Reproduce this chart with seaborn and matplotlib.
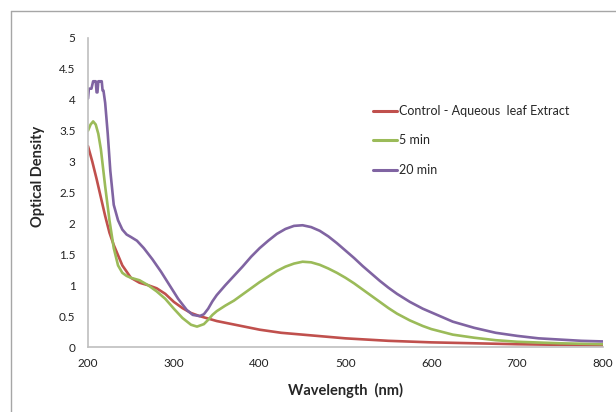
import pandas as pd
import seaborn as sns
import matplotlib.pyplot as plt
from matplotlib.lines import Line2D

# spectra
wl_control = [200, 205, 210, 215, 220, 225, 230, 240, 250, 260, 270, 280, 290, 300,
              310, 320, 330, 340, 350, 375, 400, 425, 450, 475, 500, 550, 600, 650,
              700, 750, 800]
od_control = [3.25, 3.0, 2.72, 2.42, 2.12, 1.85, 1.65, 1.32, 1.12, 1.04, 1.0, 0.95,
              0.86, 0.73, 0.63, 0.55, 0.5, 0.46, 0.42, 0.35, 0.28, 0.23, 0.2, 0.17,
              0.14, 0.1, 0.075, 0.06, 0.045, 0.035, 0.025]

wl_5min = [200, 203, 206, 209, 212, 215, 220, 225, 230, 235, 240, 245, 250, 260, 270,
           280, 290, 300, 310, 320, 327, 335, 340, 345, 350, 360, 370, 380, 390, 400,
           410, 420, 430, 440, 450, 460, 470, 480, 490, 500, 510, 520, 530, 540, 550,
           560, 575, 590, 600, 625, 650, 675, 700, 750, 800]
od_5min = [3.5, 3.6, 3.65, 3.6, 3.45, 3.2, 2.6, 2.05, 1.6, 1.32, 1.2, 1.15, 1.12,
           1.08, 1.0, 0.9, 0.78, 0.62, 0.47, 0.36, 0.33, 0.37, 0.44, 0.52, 0.58, 0.67,
           0.75, 0.85, 0.95, 1.05, 1.14, 1.23, 1.3, 1.35, 1.38, 1.37, 1.33, 1.27, 1.2,
           1.12, 1.03, 0.93, 0.83, 0.73, 0.63, 0.54, 0.43, 0.34, 0.29, 0.2, 0.15, 0.11,
           0.085, 0.06, 0.045]

wl_20min = [200, 201, 202, 204, 206, 207, 209, 210, 211, 212, 214, 216, 217, 218, 220,
            223, 226, 230, 235, 240, 245, 250, 257, 265, 275, 285, 295, 305, 315, 322,
            330, 335, 340, 345, 350, 360, 370, 380, 390, 400, 410, 420, 430, 440, 450,
            460, 470, 480, 490, 500, 510, 520, 530, 540, 550, 560, 575, 590, 600, 625,
            650, 675, 700, 725, 750, 775, 800]
od_20min = [4.02, 4.18, 4.18, 4.18, 4.3, 4.3, 4.3, 4.12, 4.12, 4.3, 4.3, 4.3, 4.15,
            4.15, 3.95, 3.45, 2.85, 2.3, 2.05, 1.9, 1.82, 1.78, 1.72, 1.6, 1.42, 1.22,
            1.0, 0.78, 0.6, 0.52, 0.5, 0.53, 0.62, 0.74, 0.84, 1.0, 1.15, 1.3, 1.46,
            1.6, 1.72, 1.83, 1.91, 1.96, 1.97, 1.94, 1.88, 1.79, 1.68, 1.56, 1.44, 1.31,
            1.19, 1.07, 0.96, 0.86, 0.73, 0.62, 0.56, 0.41, 0.31, 0.23, 0.18, 0.14,
            0.12, 0.1, 0.09]

labels = ["Control - Aqueous  leaf Extract", "5 min", "20 min"]
colors = ["#C0504D", "#9BBB59", "#8064A2"]

frames = []
for name, wl, od in zip(labels, [wl_control, wl_5min, wl_20min],
                        [od_control, od_5min, od_20min]):
    frames.append(pd.DataFrame({"wl": wl, "od": od, "series": name}))
df = pd.concat(frames, ignore_index=True)

sns.set_theme(style="white")
plt.rcParams["font.family"] = ["Lato", "DejaVu Sans"]

fig = plt.figure(figsize=(6.16, 4.12), dpi=100)
ax = fig.add_axes([88 / 616, 1 - 347 / 412, 515 / 616, 309 / 412])

sns.lineplot(data=df, x="wl", y="od", hue="series", hue_order=labels,
             palette=colors, linewidth=1.9, sort=False, estimator=None, ax=ax,
             legend=False)
for line in ax.get_lines():
    line.set_solid_joinstyle("round")
    line.set_solid_capstyle("round")

ax.set_xlim(200, 800)
ax.set_ylim(0, 5)
ax.set_xticks(range(200, 801, 100))
ax.set_yticks([0, 0.5, 1, 1.5, 2, 2.5, 3, 3.5, 4, 4.5, 5])
ax.set_yticklabels(["0", "0.5", "1", "1.5", "2", "2.5", "3", "3.5", "4", "4.5", "5"])
ax.tick_params(axis="y", length=0, pad=9, labelsize=8.5, colors="#222222")
ax.tick_params(axis="x", length=0, pad=8, labelsize=8.5, colors="#222222")
for side in ["top", "right"]:
    ax.spines[side].set_visible(False)
for side in ["left", "bottom"]:
    ax.spines[side].set_color("#BFBFBF")
    ax.spines[side].set_linewidth(1.2)
ax.set_xlabel("")
ax.set_ylabel("")

fig.text(345 / 616, 1 - 390 / 412, "Wavelength  (nm)", ha="center", va="center",
         fontsize=10.5, fontweight="bold")
fig.text(38 / 616, 1 - 176 / 412, "Optical Density", ha="center", va="center",
         rotation=90, fontsize=10.5, fontweight="bold")

handles = [Line2D([], [], color=c, linewidth=2.2) for c in colors]
ax.legend(handles, labels, loc="upper left", bbox_to_anchor=(373 / 616, 1 - 105 / 412),
          bbox_transform=fig.transFigure, frameon=False, fontsize=9,
          handlelength=1.9, handletextpad=0.15, labelspacing=1.4,
          borderpad=0, borderaxespad=0)

# outer chart-area border (left and top edges visible)
fig.add_artist(Line2D([10.5 / 616, 10.5 / 616], [0, 1 - 10.5 / 412],
                      color="#A6A6A6", linewidth=1.0, transform=fig.transFigure))
fig.add_artist(Line2D([10.5 / 616, 1], [1 - 10.5 / 412, 1 - 10.5 / 412],
                      color="#A6A6A6", linewidth=1.0, transform=fig.transFigure))

fig.savefig("out.png", dpi=100)
plt.close(fig)
